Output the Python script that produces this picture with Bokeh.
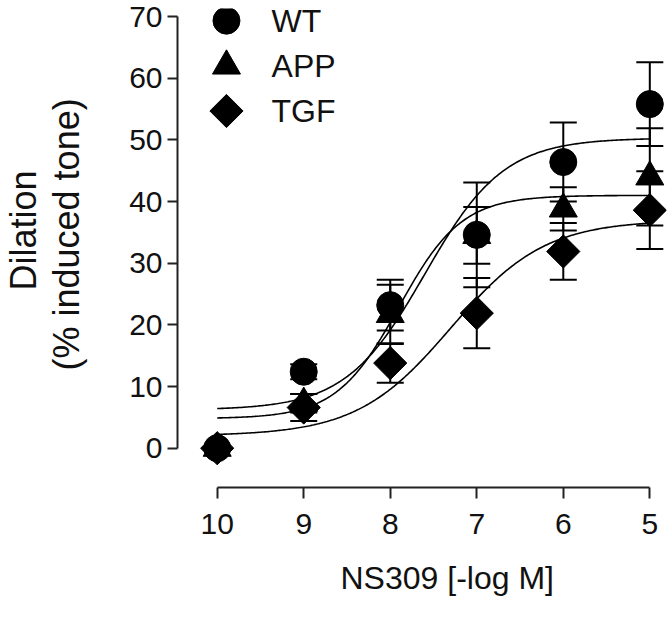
import numpy as np
from bokeh.plotting import figure
from bokeh.models import Range1d, FixedTicker, Whisker, TeeHead, ColumnDataSource, Title
from bokeh.embed import file_html
from bokeh.resources import INLINE
from bokeh.core.properties import value

# ---------------- data ----------------
x_conc = [10, 9, 8, 7, 6, 5]          # NS309 [-log M]
series_names = ["WT", "APP", "TGF"]

wt_mean = [0.0, 12.4, 23.2, 34.6, 46.4, 55.8]
wt_sem = [0.0, 1.2, 4.1, 8.5, 6.4, 6.8]

app_mean = [0.0, 7.3, 21.7, 34.5, 38.8, 44.0]
app_sem = [0.0, 1.5, 4.8, 4.6, 3.5, 7.9]

tgf_mean = [0.0, 6.6, 13.8, 21.9, 31.9, 38.6]
tgf_sem = [0.0, 2.2, 3.2, 5.7, 4.6, 6.3]

# fitted sigmoidal dose-response parameters (WT, APP, TGF)
fit_bottom = [6.2, 4.8, 2.0]
fit_top = [50.3, 41.0, 37.0]
fit_x50 = [7.6, 7.9, 7.3]
fit_hill = [0.95, 1.2, 0.8]

x_ticks = [10, 9, 8, 7, 6, 5]
y_ticks = [0, 10, 20, 30, 40, 50, 60, 70]

x_title = "NS309 [-log M]"
y_title_lines = ["Dilation", "(% induced tone)"]

# ---------------- style / layout ----------------
FONT = "Liberation Sans"
INK = "black"
TXT = "#111111"
AXIS = "#222222"
markers = ["circle", "triangle", "square"]
sizes = [27, 28, 23.5]
angles = [0.0, 0.0, np.pi / 4]

# legend placement (in the frame's data units)
LEG_MARK_X = 9.893
LEG_TEXT_X = 9.372
LEG_Y = [69.33, 61.98, 54.68]

p = figure(width=668, height=612, output_backend="svg", toolbar_location=None,
           x_range=Range1d(10.459, 4.807), y_range=Range1d(-6.37, 71.30),
           min_border_left=177, min_border_right=2, min_border_top=8,
           min_border_bottom=125)
p.xgrid.visible = False
p.ygrid.visible = False
p.outline_line_color = None
p.background_fill_color = "white"
p.border_fill_color = "white"

for ax in (p.xaxis[0], p.yaxis[0]):
    ax.axis_line_width = 2
    ax.axis_line_color = AXIS
    ax.major_tick_line_width = 2
    ax.major_tick_line_color = AXIS
    ax.minor_tick_line_color = None
    ax.major_tick_in = 0
    ax.major_label_text_font = FONT
    ax.major_label_text_color = TXT
    ax.major_label_text_font_size = "30px"
    # blank axis label used only as a spacer before the side titles
    ax.axis_label = " "
    ax.axis_label_text_font_size = "2px"

xa = p.xaxis[0]
xa.bounds = (5, 10)
xa.ticker = FixedTicker(ticks=x_ticks)
xa.major_tick_out = 11
xa.major_label_standoff = 15
xa.axis_label_standoff = 17

ya = p.yaxis[0]
ya.bounds = (0, 70)
ya.ticker = FixedTicker(ticks=y_ticks)
ya.major_tick_out = 10
ya.major_label_standoff = 5
ya.axis_label_standoff = 33

# axis titles (side-panel titles so they can sit off-centre like the original)
def side_title(text, offset, size):
    return Title(text=text, align="left", offset=offset, vertical_align="middle",
                 text_font=FONT, text_font_size=size, text_font_style="normal",
                 text_color=TXT, standoff=0, text_line_height=1.0)

p.add_layout(side_title(y_title_lines[1], 117, "36px"), "left")
p.add_layout(side_title(y_title_lines[0], 197, "36px"), "left")
p.add_layout(side_title(x_title, 163, "32px"), "below")

# fitted curves
xs = np.linspace(10, 5, 300)
for b, t, x50, h in zip(fit_bottom, fit_top, fit_x50, fit_hill):
    ys = b + (t - b) / (1.0 + 10.0 ** (h * (xs - x50)))
    p.line(xs, ys, line_color=INK, line_width=1.6)

# error bars and points
all_means = [wt_mean, app_mean, tgf_mean]
all_sems = [wt_sem, app_sem, tgf_sem]
for mean, sem in zip(all_means, all_sems):
    xx = [x for x, s in zip(x_conc, sem) if s > 0]
    lo = [m - s for m, s in zip(mean, sem) if s > 0]
    hi = [m + s for m, s in zip(mean, sem) if s > 0]
    src = ColumnDataSource(dict(x=xx, lower=lo, upper=hi))
    w = Whisker(source=src, base="x", lower="lower", upper="upper",
                dimension="height", line_color=INK, line_width=2,
                upper_head=TeeHead(size=27, line_width=2, line_color=INK),
                lower_head=TeeHead(size=27, line_width=2, line_color=INK),
                level="glyph")
    p.add_layout(w)

for mean, mk, sz, ang in zip(all_means, markers, sizes, angles):
    p.scatter(x_conc, mean, marker=mk, size=sz, angle=ang,
              fill_color=INK, line_color=INK)

# legend
for name, mk, sz, ang, ly in zip(series_names, markers, sizes, angles, LEG_Y):
    p.scatter([LEG_MARK_X], [ly], marker=mk, size=sz, angle=ang,
              fill_color=INK, line_color=INK)
p.text(x=[LEG_TEXT_X] * 3, y=LEG_Y, text=series_names,
       text_font=value(FONT), text_font_size="32px", text_color=TXT,
       text_baseline="middle", text_align="left")

open("out.html", "w").write(file_html(p, INLINE))
